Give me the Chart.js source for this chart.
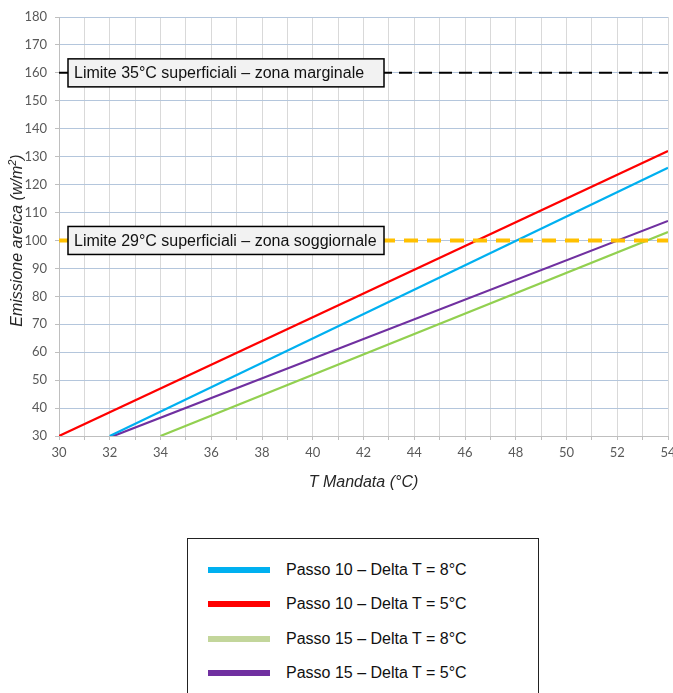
<!DOCTYPE html>
<html>
<head>
<meta charset="utf-8">
<script src="https://cdn.jsdelivr.net/npm/chart.js@4.4.1/dist/chart.umd.min.js"></script>
<style>
  body { margin: 0; background: #ffffff; width: 673px; height: 693px; overflow: hidden; position: relative; }
  #chartWrap { position: absolute; left: 0; top: 0; width: 673px; height: 505px; }
  #legendBox {
    position: absolute; left: 187px; top: 538px; width: 352px; height: 170px;
    border: 1px solid #222; background: #fff; box-sizing: border-box;
    font-family: "Liberation Sans", Arial, sans-serif; font-size: 16px; color: #111;
  }
  .legend-row { position: absolute; left: 20px; height: 20px; display: flex; align-items: center; }
  .legend-swatch { width: 62px; height: 6px; margin-right: 16px; }
</style>
</head>
<body>
<div id="chartWrap"><canvas id="emissionChart" width="673" height="505"></canvas></div>
<div id="legendBox"></div>

<script>
// Emissione areica vs T mandata

// series (start and end of each straight line)
const seriesLabels = [
  "Passo 10 \u2013 Delta T = 8\u00b0C",
  "Passo 10 \u2013 Delta T = 5\u00b0C",
  "Passo 15 \u2013 Delta T = 8\u00b0C",
  "Passo 15 \u2013 Delta T = 5\u00b0C"
];
const passo10dt8X = [32, 54];
const passo10dt8Y = [30, 126];
const passo10dt5X = [30, 54];
const passo10dt5Y = [30, 132];
const passo15dt8X = [34, 54];
const passo15dt8Y = [30, 103];
const passo15dt5X = [32, 54];
const passo15dt5Y = [29.5, 107];

const seriesColors = ["#00b0f0", "#ff0000", "#92d050", "#7030a0"];
const legendColors = ["#00b0f0", "#ff0000", "#c3d69b", "#7030a0"];

// limit lines
const limitValues = [160, 100];
const limitLabels = [
  "Limite 35\u00b0C superficiali \u2013 zona marginale",
  "Limite 29\u00b0C superficiali \u2013 zona soggiornale"
];
const limitRangeX = [30, 54];

// axes
const xMin = 30, xMax = 54;
const yMin = 30, yMax = 180;
const yTitle = "Emissione areica (w/m";   // followed by superscript 2 and ")"

function toPoints(xs, ys) {
  return xs.map((x, i) => ({ x: x, y: ys[i] }));
}

/* =========================================
   LIMIT LABEL BOXES + Y TITLE
========================================= */
const limitBoxPlugin = {
  id: "limitBoxes",
  afterDatasetsDraw(chart) {
    const ctx = chart.ctx;
    const yScale = chart.scales.y;
    const area = chart.chartArea;
    const left = area.left + 9;
    ctx.save();
    ctx.font = '16px "Liberation Sans", Arial, sans-serif';
    limitValues.forEach((v, i) => {
      const cy = yScale.getPixelForValue(v);
      const w = 316, h = 28;
      ctx.fillStyle = "#f2f2f2";
      ctx.fillRect(left, cy - h / 2, w, h);
      ctx.strokeStyle = "#000000";
      ctx.lineWidth = 1.5;
      ctx.strokeRect(left, cy - h / 2, w, h);
      ctx.fillStyle = "#111111";
      ctx.textBaseline = "middle";
      ctx.textAlign = "left";
      ctx.fillText(limitLabels[i], left + 6, cy + 1);
    });
    ctx.restore();
  },
  afterDraw(chart) {
    // y axis title with a real superscript
    const ctx = chart.ctx;
    const area = chart.chartArea;
    ctx.save();
    ctx.translate(18, (area.top + area.bottom) / 2 + 14);
    ctx.rotate(-Math.PI / 2);
    ctx.fillStyle = "#262626";
    ctx.textBaseline = "middle";
    ctx.textAlign = "left";
    const mainFont = 'italic 16px "Liberation Sans", Arial, sans-serif';
    const supFont = 'italic 11px "Liberation Sans", Arial, sans-serif';
    ctx.font = mainFont;
    const w1 = ctx.measureText(yTitle).width;
    const w3 = ctx.measureText(")").width;
    ctx.font = supFont;
    const w2 = ctx.measureText("2").width;
    let x = -(w1 + w2 + w3) / 2;
    ctx.font = mainFont;
    ctx.fillText(yTitle, x, 0);
    x += w1;
    ctx.font = supFont;
    ctx.fillText("2", x, -5);
    x += w2;
    ctx.font = mainFont;
    ctx.fillText(")", x, 0);
    ctx.restore();
  }
};

const datasets = [
  { label: seriesLabels[0], data: toPoints(passo10dt8X, passo10dt8Y), borderColor: seriesColors[0] },
  { label: seriesLabels[1], data: toPoints(passo10dt5X, passo10dt5Y), borderColor: seriesColors[1] },
  { label: seriesLabels[2], data: toPoints(passo15dt8X, passo15dt8Y), borderColor: seriesColors[2] },
  { label: seriesLabels[3], data: toPoints(passo15dt5X, passo15dt5Y), borderColor: seriesColors[3] }
].map(ds => Object.assign(ds, { borderWidth: 2.2, pointRadius: 0, tension: 0, fill: false, order: 1 }));

datasets.push({
  label: limitLabels[0],
  data: toPoints(limitRangeX, [limitValues[0], limitValues[0]]),
  borderColor: "#000000", borderWidth: 2, borderDash: [13, 7],
  pointRadius: 0, fill: false, order: 2
});
datasets.push({
  label: limitLabels[1],
  data: toPoints(limitRangeX, [limitValues[1], limitValues[1]]),
  borderColor: "#ffc000", borderWidth: 4, borderDash: [14, 9],
  pointRadius: 0, fill: false, order: 0
});

new Chart(document.getElementById("emissionChart").getContext("2d"), {
  type: "line",
  data: { datasets: datasets },
  options: {
    responsive: false,
    animation: false,
    layout: { padding: { top: 17, right: 5, bottom: 0, left: 0 } },
    plugins: { legend: { display: false }, tooltip: { enabled: false } },
    scales: {
      x: {
        type: "linear",
        min: xMin, max: xMax,
        afterFit(scale) { scale.height = 69; scale.paddingRight = 0; scale.paddingLeft = 0; },
        ticks: {
          stepSize: 1, autoSkip: false, maxRotation: 0, padding: 5,
          color: "#595959",
          font: { family: "Lato", size: 13 },
          callback: v => (v % 2 === 0 ? v : "")
        },
        grid: { color: "#d9d9d9", tickColor: "#bfbfbf", tickLength: 4 },
        border: { color: "#bfbfbf" },
        title: {
          display: true, text: "T Mandata (\u00b0C)", color: "#262626",
          font: { family: "Liberation Sans", size: 16, style: "italic" },
          padding: { top: 4, bottom: 13 }
        }
      },
      y: {
        min: yMin, max: yMax,
        afterFit(scale) { scale.width = 59; },
        ticks: {
          stepSize: 5, padding: 8,
          color: "#595959",
          font: { family: "Lato", size: 13 },
          callback: v => (v % 10 === 0 ? v : "")
        },
        grid: {
          color: c => (c.tick && c.tick.value % 10 === 0 ? "#b4c6dc" : "rgba(0,0,0,0)"),
          tickColor: "#bfbfbf", tickLength: 4
        },
        border: { color: "#bfbfbf" },
        title: { display: false }
      }
    }
  },
  plugins: [limitBoxPlugin]
});

/* =========================================
   LEGEND (built from the series arrays)
========================================= */
const legendBox = document.getElementById("legendBox");
seriesLabels.forEach((label, i) => {
  const row = document.createElement("div");
  row.className = "legend-row";
  row.style.top = (21 + i * 34.3) + "px";
  row.innerHTML = `<span class="legend-swatch" style="background:${legendColors[i]}"></span><span>${label}</span>`;
  legendBox.appendChild(row);
});
</script>
</body>
</html>
